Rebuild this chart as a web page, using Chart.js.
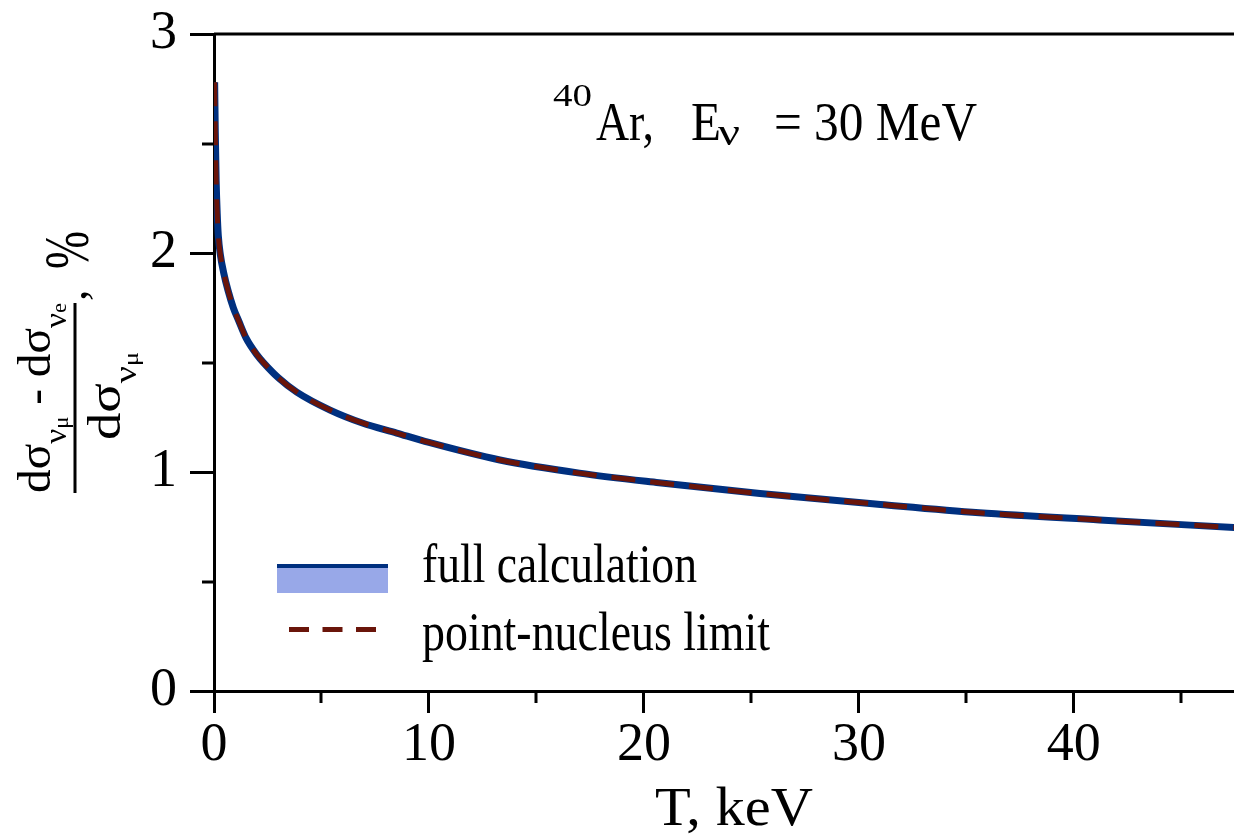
<!DOCTYPE html>
<html>
<head>
<meta charset="utf-8">
<script src="https://cdn.jsdelivr.net/npm/chart.js@4.4.1/dist/chart.umd.min.js"></script>
<style>
    html, body { margin: 0; padding: 0; background: #fff; }
    #wrap { width: 1234px; height: 835px; position: relative; }
</style>
</head>
<body>
<div id="wrap"><canvas id="chart"></canvas></div>
<script>
// recoil energy T, keV
const recoilEnergy = [0.03, 0.06, 0.1, 0.15, 0.2, 0.3, 0.45, 0.65, 0.9, 1.15, 1.5, 2, 2.3, 3, 3.85, 5.4, 6.9, 8.5, 10, 13.3, 17, 20.7, 25.4, 31, 35.6, 41.2, 47.5];
// (dσ_νμ - dσ_νe) / dσ_νμ, %
const fullCalculation = [2.78, 2.55, 2.33, 2.18, 2.08, 1.99, 1.91, 1.83, 1.75, 1.69, 1.61, 1.535, 1.50, 1.43, 1.365, 1.283, 1.224, 1.178, 1.135, 1.055, 0.995, 0.951, 0.902, 0.852, 0.814, 0.781, 0.746];
const pointNucleus = [2.78, 2.55, 2.33, 2.18, 2.08, 1.99, 1.91, 1.83, 1.75, 1.69, 1.61, 1.535, 1.50, 1.43, 1.365, 1.283, 1.224, 1.178, 1.135, 1.055, 0.995, 0.951, 0.902, 0.852, 0.814, 0.781, 0.746];
const seriesLabels = ['full calculation', 'point-nucleus limit'];
const xMinorTicks = [5, 15, 25, 35, 45];
const yMinorTicks = [0.5, 1.5, 2.5];

const SERIF = '"Liberation Serif", "Times New Roman", serif';
const BLUE = '#00307f';
const BAND = '#98a8e8';
const RED = '#6a150a';

// draws text pieces in a row, squeezed/stretched to a given width
function drawFitted(ctx, parts, x, y, width) {
    let total = 0;
    parts.forEach(p => {
        ctx.font = p.size + 'px ' + SERIF;
        p.w = ctx.measureText(p.text).width;
        total += p.w;
    });
    const s = width / total;
    ctx.save();
    ctx.translate(x, y);
    ctx.scale(s, 1);
    let cx = 0;
    parts.forEach(p => {
        ctx.font = p.size + 'px ' + SERIF;
        ctx.fillText(p.text, cx, p.dy || 0);
        cx += p.w;
    });
    ctx.restore();
}

const decorations = {
    id: 'decorations',
    afterDraw(chart) {
        const { ctx, chartArea, scales } = chart;
        ctx.save();
        ctx.strokeStyle = '#000';
        ctx.fillStyle = '#000';
        ctx.lineWidth = 3;

        // top frame
        ctx.beginPath();
        ctx.moveTo(chartArea.left, chartArea.top);
        ctx.lineTo(chartArea.right, chartArea.top);
        ctx.stroke();

        // minor ticks
        ctx.beginPath();
        xMinorTicks.forEach(v => {
            const px = Math.round(scales.x.getPixelForValue(v));
            ctx.moveTo(px, chartArea.bottom);
            ctx.lineTo(px, chartArea.bottom + 12);
        });
        yMinorTicks.forEach(v => {
            const py = Math.round(scales.y.getPixelForValue(v));
            ctx.moveTo(chartArea.left, py);
            ctx.lineTo(chartArea.left - 12, py);
        });
        ctx.stroke();

        ctx.textBaseline = 'alphabetic';
        ctx.textAlign = 'left';

        // x axis title
        drawFitted(ctx, [{ text: 'T, keV', size: 54 }], 655, 825, 158);

        // annotation
        drawFitted(ctx, [{ text: '40', size: 32 }], 553, 106, 39);
        drawFitted(ctx, [{ text: 'Ar,', size: 54 }], 596, 140, 58);
        drawFitted(ctx, [{ text: 'E', size: 54 }], 691, 140, 30);
        drawFitted(ctx, [{ text: 'ν', size: 38 }], 718, 145, 22);
        drawFitted(ctx, [{ text: '= 30 MeV', size: 54 }], 774, 140, 203);

        // legend
        const lx0 = 277, lx1 = 388;
        ctx.fillStyle = BAND;
        ctx.fillRect(lx0, 568, lx1 - lx0, 25);
        ctx.fillStyle = BLUE;
        ctx.fillRect(lx0, 564, lx1 - lx0, 4);
        ctx.strokeStyle = RED;
        ctx.lineWidth = 5;
        ctx.setLineDash([20, 13.5]);
        ctx.beginPath();
        ctx.moveTo(289, 629.5);
        ctx.lineTo(376, 629.5);
        ctx.stroke();
        ctx.setLineDash([]);
        ctx.fillStyle = '#000';
        drawFitted(ctx, [{ text: chart.data.datasets[1].label, size: 55 }], 422, 582, 275);
        drawFitted(ctx, [{ text: chart.data.datasets[0].label, size: 55 }], 422, 650, 348);

        // y axis title: fraction, rotated
        ctx.translate(75, 398);
        ctx.rotate(-Math.PI / 2);
        ctx.fillRect(-95, -1.5, 190, 3);
        drawFitted(ctx, [
            { text: 'dσ', size: 46 },
            { text: 'ν', size: 32, dy: 16 },
            { text: 'μ', size: 22, dy: 18 },
            { text: ' - ', size: 46 },
            { text: 'dσ', size: 46 },
            { text: 'ν', size: 32, dy: 16 },
            { text: 'e', size: 22, dy: 16 }
        ], -95, -25, 190);
        drawFitted(ctx, [
            { text: 'dσ', size: 46 },
            { text: 'ν', size: 32, dy: 16 },
            { text: 'μ', size: 22, dy: 18 }
        ], -42, 45, 88);
        ctx.font = '46px ' + SERIF;
        ctx.fillText(',', 97, 11);
        drawFitted(ctx, [{ text: '%', size: 64 }], 129, 13, 38);
        ctx.restore();
    }
};

new Chart(document.getElementById('chart'), {
    type: 'line',
    data: {
        datasets: [
            {
                label: seriesLabels[1],
                data: recoilEnergy.map((t, i) => ({ x: t, y: pointNucleus[i] })),
                borderColor: RED,
                borderWidth: 5,
                borderDash: [24, 15],
                pointRadius: 0,
                cubicInterpolationMode: 'monotone',
                order: 1
            },
            {
                label: seriesLabels[0],
                data: recoilEnergy.map((t, i) => ({ x: t, y: fullCalculation[i] })),
                borderColor: BLUE,
                borderWidth: 7,
                pointRadius: 0,
                cubicInterpolationMode: 'monotone',
                order: 2
            }
        ]
    },
    options: {
        responsive: true,
        maintainAspectRatio: false,
        animation: false,
        layout: { padding: { top: 0, right: 0, left: 0, bottom: 0 } },
        plugins: {
            legend: { display: false },
            tooltip: { enabled: false }
        },
        scales: {
            x: {
                type: 'linear',
                min: 0,
                max: 47.45,
                afterFit(scale) { scale.height = 144; },
                border: { color: '#000', width: 3 },
                grid: { drawOnChartArea: false, color: '#000', lineWidth: 3, tickLength: 22 },
                ticks: { stepSize: 10, includeBounds: false, color: '#000', font: { family: SERIF, size: 54 }, padding: 0, maxRotation: 0 }
            },
            y: {
                min: 0,
                max: 3,
                afterFit(scale) { scale.width = 214; },
                border: { color: '#000', width: 3 },
                grid: { drawOnChartArea: false, color: '#000', lineWidth: 3, tickLength: 24 },
                ticks: { stepSize: 1, color: '#000', font: { family: SERIF, size: 54, lineHeight: 0.78 }, padding: 13 }
            }
        }
    },
    plugins: [decorations]
});
</script>
</body>
</html>
